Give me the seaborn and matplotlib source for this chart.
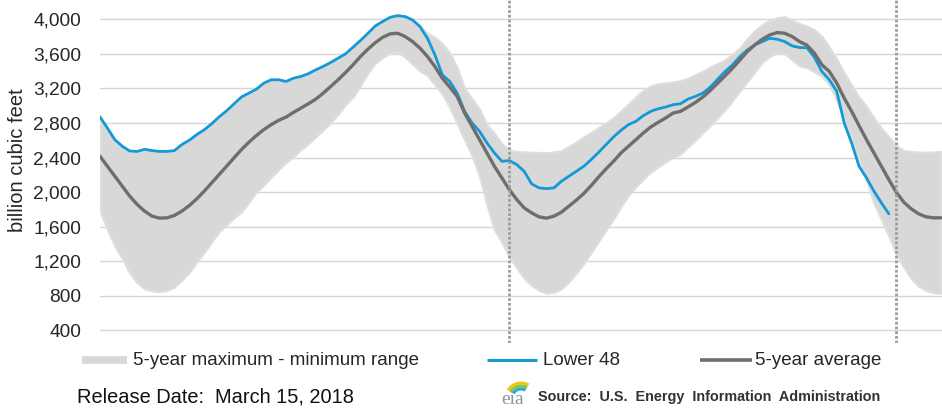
import numpy as np
import pandas as pd
import matplotlib
matplotlib.use("Agg")
import matplotlib.pyplot as plt
import seaborn as sns
from matplotlib.lines import Line2D
from matplotlib.patches import Arc
from matplotlib.transforms import IdentityTransform

# ---------------- data (billion cubic feet, weekly index) ----------------
weeks = list(range(114))

lower48 = [2870, 2740, 2605, 2530, 2475, 2470, 2495, 2480, 2470, 2470,
           2480, 2550, 2600, 2665, 2720, 2790, 2870, 2940, 3020, 3100,
           3145, 3190, 3260, 3300, 3300, 3280, 3318, 3338, 3370, 3415,
           3455, 3500, 3550, 3600, 3677, 3754, 3838, 3923, 3975, 4023,
           4042, 4031, 3992, 3915, 3780, 3588, 3357, 3280, 3145, 2934,
           2799, 2703, 2568, 2452, 2356, 2364, 2318, 2240, 2095, 2048,
           2040, 2048, 2125, 2183, 2240, 2298, 2375, 2460, 2549, 2637,
           2714, 2780, 2818, 2884, 2934, 2964, 2984, 3011, 3022, 3076,
           3107, 3145, 3215, 3307, 3396, 3473, 3569, 3646, 3704, 3742,
           3780, 3769, 3742, 3692, 3673, 3670, 3560, 3396, 3300, 3165,
           2800, 2568, 2298, 2164, 2010, 1875, 1748]

avg5 = [2414, 2298, 2183, 2067, 1952, 1856, 1779, 1721, 1698, 1702,
        1729, 1779, 1844, 1921, 2010, 2106, 2202, 2298, 2395, 2491,
        2576, 2653, 2722, 2780, 2830, 2868, 2922, 2972, 3022, 3076,
        3145, 3222, 3300, 3384, 3473, 3569, 3654, 3730, 3792, 3831,
        3838, 3800, 3742, 3665, 3569, 3453, 3318, 3215, 3107, 2914,
        2760, 2606, 2452, 2298, 2164, 2029, 1913, 1817, 1759, 1713,
        1698, 1721, 1767, 1836, 1906, 1983, 2075, 2175, 2268, 2356,
        2452, 2529, 2606, 2683, 2753, 2807, 2857, 2914, 2934, 2984,
        3037, 3099, 3176, 3261, 3346, 3434, 3530, 3627, 3704, 3769,
        3819, 3846, 3838, 3800, 3742, 3700, 3607, 3473, 3396, 3261,
        3088, 2934, 2768, 2606, 2452, 2298, 2144, 1998, 1883, 1806,
        1748, 1713, 1702, 1702]

max5 = [2870, 2740, 2605, 2530, 2475, 2470, 2495, 2480, 2470, 2470,
        2480, 2550, 2600, 2665, 2720, 2790, 2870, 2940, 3020, 3100,
        3145, 3190, 3260, 3300, 3300, 3280, 3318, 3338, 3370, 3415,
        3455, 3500, 3550, 3600, 3677, 3754, 3838, 3923, 3975, 4020,
        4040, 4030, 3990, 3915, 3840, 3790, 3720, 3610, 3440, 3200,
        3080, 2960, 2780, 2680, 2560, 2490, 2470, 2465, 2460, 2460,
        2455, 2465, 2480, 2530, 2580, 2640, 2690, 2750, 2800, 2860,
        2940, 3020, 3100, 3180, 3230, 3255, 3265, 3275, 3290, 3320,
        3360, 3400, 3450, 3490, 3530, 3600, 3670, 3780, 3870, 3940,
        3990, 4020, 4030, 3990, 3950, 3920, 3880, 3800, 3680, 3540,
        3380, 3240, 3100, 2990, 2860, 2740, 2640, 2540, 2480, 2470,
        2465, 2460, 2465, 2470]

min5 = [1780, 1560, 1374, 1230, 1060, 950, 880, 855, 847, 862,
        900, 980, 1070, 1190, 1300, 1420, 1540, 1620, 1700, 1770,
        1880, 2000, 2080, 2170, 2260, 2340, 2410, 2490, 2560, 2640,
        2720, 2800, 2900, 3010, 3100, 3230, 3380, 3490, 3560, 3610,
        3620, 3560, 3480, 3400, 3350, 3240, 3130, 2980, 2790, 2600,
        2420, 2180, 1850, 1560, 1420, 1250, 1120, 1000, 920, 860,
        830, 840, 880, 960, 1060, 1170, 1300, 1430, 1560, 1690,
        1830, 1960, 2060, 2150, 2230, 2290, 2350, 2400, 2440, 2520,
        2600, 2690, 2770, 2860, 2950, 3060, 3170, 3280, 3390, 3500,
        3570, 3610, 3600, 3530, 3460, 3440, 3390, 3340, 3240, 3060,
        2860, 2630, 2380, 2130, 1870, 1680, 1490, 1280, 1130, 1000,
        910, 860, 835, 828]

yticks = [400, 800, 1200, 1600, 2000, 2400, 2800, 3200, 3600, 4000]
ytick_labels = ["400", "800", "1,200", "1,600", "2,000", "2,400",
                "2,800", "3,200", "3,600", "4,000"]
marker_weeks = [55, 107]

legend_labels = ["5-year maximum - minimum range", "Lower 48", "5-year average"]
ylabel = "billion cubic feet"
release_text = "Release Date:  March 15, 2018"
source_text = "Source:  U.S.  Energy  Information  Administration"

# ---------------- styling ----------------
sns.set_theme(style="white")
plt.rcParams['font.family'] = ['Liberation Sans', 'DejaVu Sans']

BAND = '#d8d8d8'
BLUE = '#1399d6'
GREY = '#6e6e6e'
TXT = '#262626'

W, H = 942, 411
fig = plt.figure(figsize=(W / 100, H / 100), dpi=100)
fig.patch.set_facecolor('white')

left_px, bottom_px = 99.5, 343
ax = fig.add_axes([left_px / W, 1 - bottom_px / H, 1 - left_px / W, bottom_px / H])
ax.set_facecolor('white')

px_per_week = 7.442
ax.set_xlim(-(100 - left_px) / px_per_week, (W - 100) / px_per_week)
ax.set_ylim(253, 4223)

# band
ax.fill_between(weeks, min5, max5, color=BAND, lw=1.5, edgecolor='#dedede', zorder=1)

df_l48 = pd.DataFrame({"week": weeks[:len(lower48)], "value": lower48})
df_avg = pd.DataFrame({"week": weeks, "value": avg5})
sns.lineplot(data=df_l48, x="week", y="value", color=BLUE, lw=2.0, ax=ax, zorder=3)
sns.lineplot(data=df_avg, x="week", y="value", color=GREY, lw=2.4, ax=ax, zorder=4)

for w in marker_weeks:
    ax.axvline(w, color='#9d9d9d', lw=2.0, linestyle=(0, (1.0, 0.7)), zorder=5)

ax.set_yticks(yticks)
ax.set_yticklabels(ytick_labels, fontsize=13.8, color=TXT)
ax.set_xticks([])
ax.tick_params(axis='y', length=0, pad=13.3)
ax.yaxis.grid(True, color='#d6d6d6', lw=1.0)
ax.xaxis.grid(False)
ax.set_axisbelow(True)
for s in ax.spines.values():
    s.set_visible(False)
ax.set_xlabel("")
ax.set_ylabel("")

fig.text(18 / W, 1 - 160 / H, ylabel, rotation=90, ha='center', va='center',
         fontsize=14.5, color=TXT)

# ---------------- legend (manual) ----------------
ly = 1 - 360 / H
fig.add_artist(Line2D([82 / W, 127 / W], [ly, ly], color=BAND, lw=5.5,
                      transform=fig.transFigure, solid_capstyle='butt'))
fig.text(133 / W, ly, legend_labels[0], ha='left', va='center', fontsize=13.5, color=TXT)
fig.add_artist(Line2D([487 / W, 537 / W], [ly, ly], color=BLUE, lw=2.2,
                      transform=fig.transFigure, solid_capstyle='butt'))
fig.text(543 / W, ly, legend_labels[1], ha='left', va='center', fontsize=13.5, color=TXT)
fig.add_artist(Line2D([700 / W, 752 / W], [ly, ly], color=GREY, lw=2.6,
                      transform=fig.transFigure, solid_capstyle='butt'))
fig.text(755 / W, ly, legend_labels[2], ha='left', va='center', fontsize=13.5, color=TXT)

# ---------------- footer ----------------
fy = 1 - 397 / H
fig.text(77 / W, fy, release_text, ha='left', va='center', fontsize=14.4, color='#111111')

# eia logo
fig.text(513 / W, 1 - 399 / H, "eia", ha='center', va='center', fontsize=14,
         family=['Liberation Serif', 'DejaVu Serif'], color='#8b97a3')
for r, c in [(15, '#f0c419'), (12, '#8cc63f'), (9, '#29a8e0')]:
    fig.add_artist(Arc((521, H - 398), 2 * r, 2 * r, theta1=60, theta2=150,
                       color=c, lw=2.2, transform=IdentityTransform()))

fig.text(538 / W, fy, source_text, ha='left', va='center', fontsize=10.4,
         weight='bold', color='#333333')

fig.savefig("out.png", dpi=100, facecolor='white')
